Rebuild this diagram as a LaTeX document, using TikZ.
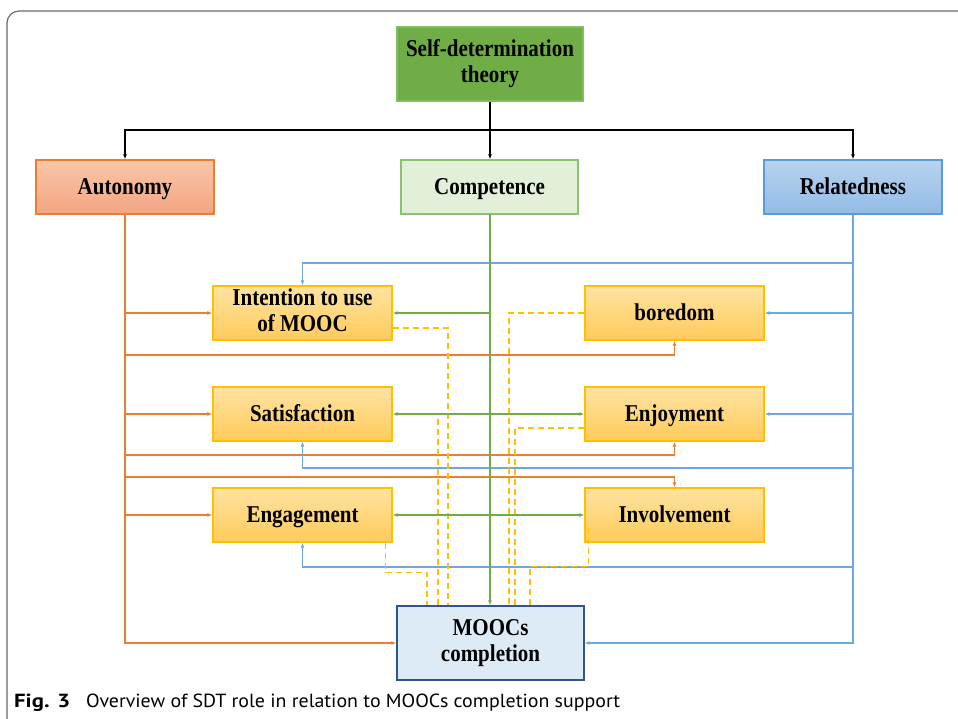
\documentclass[tikz,border=0pt]{standalone}
\usepackage{fontspec}
\setmainfont{Liberation Serif}
\newfontfamily\capfont{PT Sans}
\usetikzlibrary{arrows.meta,calc}
\definecolor{sdtg}{HTML}{70AD47}
\definecolor{sdtb}{HTML}{82BD5E}
\definecolor{otop}{HTML}{F8C6A9}
\definecolor{obot}{HTML}{F4A582}
\definecolor{ocol}{HTML}{ED7D31}
\definecolor{gfill}{HTML}{E2F0D9}
\definecolor{gbord}{HTML}{8CC46E}
\definecolor{gcol}{HTML}{70AD47}
\definecolor{btop}{HTML}{B8D3EF}
\definecolor{bbot}{HTML}{93BBE6}
\definecolor{bcol}{HTML}{5B9BD5}
\definecolor{blin}{HTML}{6FA8DC}
\definecolor{ytop}{HTML}{FFE3A2}
\definecolor{ybot}{HTML}{FFCB5A}
\definecolor{ybord}{HTML}{FFC000}
\definecolor{mfill}{HTML}{DDEBF7}
\definecolor{mbord}{HTML}{2F5597}
\definecolor{framec}{HTML}{6A6A6A}
\newcommand\bx[1]{\scalebox{1}[1.15]{\begin{tabular}{@{}c@{}}#1\end{tabular}}}
\begin{document}
\begin{tikzpicture}[x=1pt,y=-1pt,
  box/.style={draw, line width=1.3pt, inner sep=0pt, align=center,
    font=\fontsize{21}{23}\selectfont\bfseries},
  one/.style={text height=19pt, text depth=3pt},
  ybox/.style={box, draw=ybord, top color=ytop, bottom color=ybot,
    minimum width=179pt, minimum height=54pt},
  tip/.style={-{Latex[length=5pt,width=4pt]}},
  both/.style={{Latex[length=5pt,width=4pt]}-{Latex[length=5pt,width=4pt]}},
  kline/.style={draw=black, line width=1.5pt},
  oline/.style={draw=ocol, line width=1.5pt},
  bline/.style={draw=blin, line width=1.5pt},
  gline/.style={draw=gcol, line width=1.6pt},
  dline/.style={draw=ybord, line width=1.6pt, dash pattern=on 6pt off 4pt}]
\useasboundingbox (0,0) rectangle (958,718);
\draw[framec, line width=1.2pt, rounded corners=12pt] (7,730) -- (7,11) -- (970,11);

% nodes
\node[box, fill=sdtg, draw=sdtb, minimum width=186pt, minimum height=74pt] (sdt) at (490,64) {\bx{Self-determination\\theory}};
\node[box, one, draw=ocol, top color=otop, bottom color=obot, minimum width=178pt, minimum height=54pt] (auto) at (125,187) {\bx{Autonomy}};
\node[box, one, draw=gbord, fill=gfill, minimum width=177pt, minimum height=54pt] (comp) at (489.5,187) {\bx{Competence}};
\node[box, one, draw=bcol, top color=btop, bottom color=bbot, minimum width=178pt, minimum height=54pt] (rel) at (853,187) {\bx{Relatedness}};
\node[ybox] (int) at (302.5,313) {\bx{Intention to use\\of MOOC}};
\node[ybox, one] (bor) at (674.5,313) {\bx{boredom}};
\node[ybox, one] (sat) at (302.5,414) {\bx{Satisfaction}};
\node[ybox, one] (enj) at (674.5,414) {\bx{Enjoyment}};
\node[ybox, one] (eng) at (302.5,515) {\bx{Engagement}};
\node[ybox, one] (inv) at (674.5,515) {\bx{Involvement}};
\node[box, draw=mbord, fill=mfill, minimum width=187pt, minimum height=74pt] (moocs) at (490.5,643) {\bx{MOOCs\\completion}};

% black bus
\coordinate (bus) at (490,130);
\draw[kline] (sdt.south) -- (bus);
\draw[kline,tip] (bus) -| (auto.north);
\draw[kline,tip] (bus) -- (bus |- comp.north);
\draw[kline,tip] (bus) -| (rel.north);

% orange (Autonomy)
\draw[oline,tip] (auto.south) |- (moocs.west);
\draw[oline,tip] (auto.south |- int.west) -- (int.west);
\draw[oline,tip] (auto.south |- sat.west) -- (sat.west);
\draw[oline,tip] (auto.south |- eng.west) -- (eng.west);
\coordinate (o1) at (125,355);
\coordinate (o2) at (125,455);
\coordinate (o3) at (125,477);
\draw[oline,tip] (o1) -| (bor.south);
\draw[oline,tip] (o2) -| (enj.south);
\draw[oline,tip] (o3) -| (inv.north);

% blue (Relatedness)
\draw[bline,tip] (rel.south) |- (moocs.east);
\coordinate (b1) at (853,263);
\coordinate (b2) at (853,468);
\coordinate (b3) at (853,567);
\draw[bline,tip] (b1) -| (int.north);
\draw[bline,tip] (rel.south |- bor.east) -- (bor.east);
\draw[bline,tip] (rel.south |- enj.east) -- (enj.east);
\draw[bline,tip] (b2) -| (sat.south);
\draw[bline,tip] (b3) -| (eng.south);

% dashed yellow
\draw[dline] ($(int.east)+(0,15)$) -| ($(moocs.north)+(-42.5,0)$);
\draw[dline] ($(sat.east)+(20,0)$) -| ($(moocs.north)+(-52.5,0)$);
\draw[dline] ($(eng.south east)+(-7,0)$) -- ++(0,30) -| ($(moocs.north)+(-63.5,0)$);
\draw[dline] (bor.west) -| ($(moocs.north)+(18.5,0)$);
\draw[dline] ($(enj.west)+(0,14)$) -| ($(moocs.north)+(24.5,0)$);
\draw[dline] ($(inv.south west)+(4,-15)$) -- ++(0,39) -| ($(moocs.north)+(39.5,0)$);

% green (Competence)
\coordinate (gtop) at (490,214);
\draw[gline,tip] (gtop) -- (gtop |- moocs.north);
\draw[gline,tip] (gtop |- int.east) -- (int.east);
\draw[gline,both] (sat.east) -- (enj.west);
\draw[gline,both] (eng.east) -- (inv.west);

% caption
\node[anchor=base west, inner sep=0pt] (figlab) at (14,707)
  {\capfont\resizebox{56pt}{\height}{\fontsize{19}{23}\selectfont\bfseries Fig. 3}};
\node[anchor=base west, inner sep=0pt] (cap) at (86,707)
  {\capfont\resizebox{534pt}{\height}{\fontsize{19}{23}\selectfont Overview of SDT role in relation to MOOCs completion support}};
\end{tikzpicture}
\end{document}
